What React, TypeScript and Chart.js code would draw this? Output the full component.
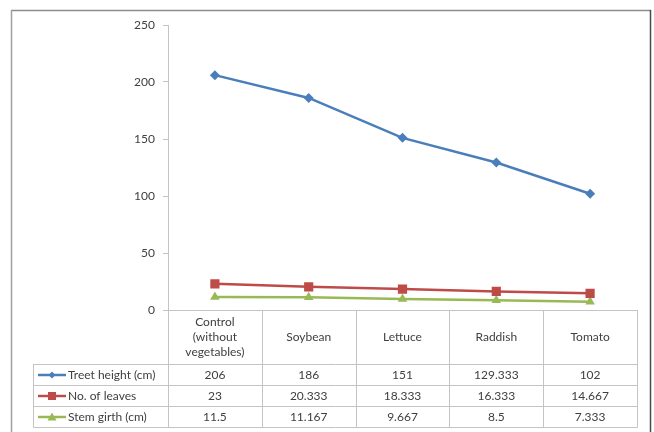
import React, { useEffect, useRef } from "react";
import { Chart, registerables } from "chart.js";

Chart.register(...registerables);

const categories = ["Control (without vegetables)", "Soybean", "Lettuce", "Raddish", "Tomato"];
const headerLines = [["Control", "(without", "vegetables)"], ["Soybean"], ["Lettuce"], ["Raddish"], ["Tomato"]];
const treeHeight = [206, 186, 151, 129.333, 102];
const leaves = [23, 20.333, 18.333, 16.333, 14.667];
const stemGirth = [11.5, 11.167, 9.667, 8.5, 7.333];
const treeHeightLabels = ["206", "186", "151", "129.333", "102"];
const leavesLabels = ["23", "20.333", "18.333", "16.333", "14.667"];
const stemGirthLabels = ["11.5", "11.167", "9.667", "8.5", "7.333"];
const seriesNames = ["Treet height (cm)", "No. of leaves", "Stem girth (cm)"];

const BLUE = "#4a7ebb";
const RED = "#be4b48";
const GREEN = "#98b954";
const FONT = "Lato";

function drawMarker(ctx: CanvasRenderingContext2D, kind: string, x: number, y: number, r: number, color: string) {
  ctx.save();
  ctx.fillStyle = color;
  ctx.beginPath();
  if (kind === "diamond") {
    ctx.moveTo(x, y - r);
    ctx.lineTo(x + r, y);
    ctx.lineTo(x, y + r);
    ctx.lineTo(x - r, y);
  } else if (kind === "square") {
    ctx.rect(x - r, y - r, 2 * r, 2 * r);
  } else {
    ctx.moveTo(x, y - r);
    ctx.lineTo(x + r, y + r * 0.8);
    ctx.lineTo(x - r, y + r * 0.8);
  }
  ctx.closePath();
  ctx.fill();
  ctx.restore();
}

const tablePlugin = {
  id: "dataTable",
  afterDraw(chart: any) {
    const ctx: CanvasRenderingContext2D = chart.ctx;
    const xs = chart.scales.x;
    const area = chart.chartArea;
    const n = categories.length;
    const colW = (area.right - area.left) / n;
    const top = area.bottom;
    const headerBottom = top + 54;
    const rowH = 21;
    const tableLeft = 33;
    const rows = [
      { name: seriesNames[0], color: BLUE, marker: "diamond", r: 3.5, labels: treeHeightLabels },
      { name: seriesNames[1], color: RED, marker: "square", r: 4, labels: leavesLabels },
      { name: seriesNames[2], color: GREEN, marker: "triangle", r: 4.5, labels: stemGirthLabels },
    ];
    const tableBottom = headerBottom + rowH * rows.length;

    ctx.save();
    // outer frame
    ctx.lineWidth = 1.5;
    ctx.strokeStyle = "#8c8c8c";
    ctx.beginPath();
    ctx.moveTo(11, 10.5);
    ctx.lineTo(651, 10.5);
    ctx.stroke();
    ctx.strokeStyle = "#a0a0a0";
    ctx.beginPath();
    ctx.moveTo(11.5, 10);
    ctx.lineTo(11.5, 432);
    ctx.stroke();
    ctx.strokeStyle = "#4a4a4a";
    ctx.beginPath();
    ctx.moveTo(650.5, 10);
    ctx.lineTo(650.5, 432);
    ctx.stroke();

    // table grid
    ctx.lineWidth = 1;
    ctx.strokeStyle = "#c4c4c4";
    ctx.beginPath();
    const L = Math.round(area.left) + 0.5;
    const R = Math.round(area.right) + 0.5;
    ctx.moveTo(L, Math.round(top) + 0.5);
    ctx.lineTo(R, Math.round(top) + 0.5);
    for (let i = 0; i <= rows.length; i++) {
      const y = Math.round(headerBottom + i * rowH) + 0.5;
      ctx.moveTo(tableLeft + 0.5, y);
      ctx.lineTo(R, y);
    }
    for (let i = 0; i <= n; i++) {
      const x = Math.round(area.left + i * colW) + 0.5;
      ctx.moveTo(x, top);
      ctx.lineTo(x, tableBottom + 0.5);
    }
    ctx.moveTo(tableLeft + 0.5, headerBottom);
    ctx.lineTo(tableLeft + 0.5, tableBottom + 0.5);
    ctx.stroke();

    // header text
    ctx.fillStyle = "#404040";
    ctx.font = `12px ${FONT}`;
    ctx.textAlign = "center";
    ctx.textBaseline = "middle";
    const hMid = (top + headerBottom) / 2;
    headerLines.forEach((lines, i) => {
      const cx = xs.getPixelForValue(i);
      const lh = 15;
      lines.forEach((t, j) => {
        ctx.fillText(t, cx, hMid + (j - (lines.length - 1) / 2) * lh);
      });
    });

    // data rows
    rows.forEach((row, ri) => {
      const cy = headerBottom + ri * rowH + rowH / 2 + 0.5;
      row.labels.forEach((t, i) => {
        ctx.textAlign = "center";
        ctx.fillStyle = "#404040";
        ctx.fillText(t, xs.getPixelForValue(i), cy);
      });
      ctx.strokeStyle = row.color;
      ctx.lineWidth = 2.5;
      ctx.beginPath();
      ctx.moveTo(38, cy);
      ctx.lineTo(66, cy);
      ctx.stroke();
      drawMarker(ctx, row.marker, 52, cy, row.r, row.color);
      ctx.textAlign = "left";
      ctx.fillStyle = "#404040";
      ctx.fillText(row.name, 68, cy);
    });
    ctx.restore();
  },
};

export default function App() {
  const ref = useRef<HTMLCanvasElement>(null);
  useEffect(() => {
    document.body.style.margin = "0";
    const canvas = ref.current!;
    const chart = new Chart(canvas, {
      type: "line",
      data: {
        labels: categories,
        datasets: [
          {
            label: seriesNames[0],
            data: treeHeight,
            borderColor: BLUE,
            backgroundColor: BLUE,
            borderWidth: 2.5,
            pointStyle: "rectRot",
            pointRadius: 5,
            pointBorderWidth: 0,
          },
          {
            label: seriesNames[1],
            data: leaves,
            borderColor: RED,
            backgroundColor: RED,
            borderWidth: 2.5,
            pointStyle: "rect",
            pointRadius: 6.5,
            pointBorderWidth: 0,
          },
          {
            label: seriesNames[2],
            data: stemGirth,
            borderColor: GREEN,
            backgroundColor: GREEN,
            borderWidth: 2.5,
            pointStyle: "triangle",
            pointRadius: 5.5,
            pointBorderWidth: 0,
          },
        ],
      },
      options: {
        responsive: false,
        animation: false,
        layout: { padding: { left: 0, top: 25, right: 17, bottom: 122 } },
        plugins: { legend: { display: false }, tooltip: { enabled: false } },
        scales: {
          x: { display: false, offset: true },
          y: {
            min: 0,
            max: 250,
            ticks: { stepSize: 50, color: "#404040", font: { family: FONT, size: 12 }, padding: 8 },
            grid: { drawOnChartArea: false, drawTicks: true, tickLength: 5, color: "#c4c4c4" },
            border: { color: "#c4c4c4" },
            afterFit: (scale: any) => {
              scale.width = 168;
            },
          },
        },
      },
      plugins: [tablePlugin],
    });
    return () => chart.destroy();
  }, []);
  return <canvas ref={ref} width={654} height={432} style={{ display: "block" }} />;
}
